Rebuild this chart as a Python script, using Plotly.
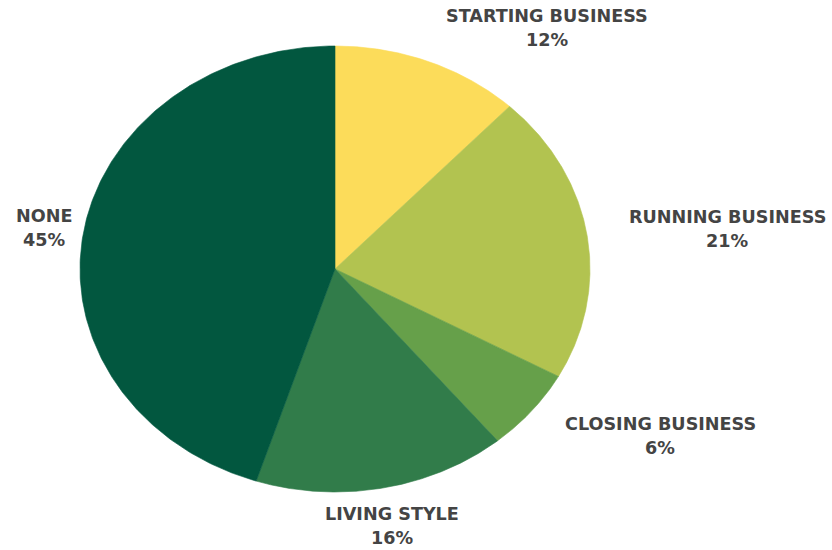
import numpy as np
import plotly.graph_objects as go

# Business-stage share of respondents (percent), clockwise from 12 o'clock
categories = ["STARTING BUSINESS", "RUNNING BUSINESS", "CLOSING BUSINESS", "LIVING STYLE", "NONE"]
shares = [12, 21, 6, 16, 45]
colors = ["#fcdc5a", "#b2c350", "#66a04a", "#317c4a", "#02573f"]

# Label anchor positions in plot units (centre of the pie at 0,0); first line of each label
label_x = [212, 392, 325, 57, -291]
label_y = [253, 52, -155, -245, 53]
LINE_GAP = 24

RX, RY = 255, 223  # horizontal / vertical radii of the pie

fig = go.Figure()

total = sum(shares)
start = 0.0
for name, val, col in zip(categories, shares, colors):
    end = start + val / total * 360
    t = np.radians(np.linspace(start, end, 240))
    xs = np.concatenate([[0], RX * np.sin(t), [0]])
    ys = np.concatenate([[0], RY * np.cos(t), [0]])
    fig.add_trace(go.Scatter(
        x=xs, y=ys, mode="lines", fill="toself",
        fillcolor=col, line=dict(color=col, width=0.6),
        name=name, hoveron="fills", text=f"{name}: {val}%",
        hoverinfo="text", showlegend=False,
    ))
    start = end

label_font = dict(family="DejaVu Sans", size=17.6, color="#444444", weight="bold")
for name, val, lx, ly in zip(categories, shares, label_x, label_y):
    fig.add_annotation(x=lx, y=ly, text=name, showarrow=False,
                       xanchor="center", yanchor="middle", font=label_font)
    fig.add_annotation(x=lx, y=ly - LINE_GAP, text=f"{val}%", showarrow=False,
                       xanchor="center", yanchor="middle", font=label_font)

fig.update_layout(
    width=832, height=550,
    margin=dict(l=0, r=0, t=0, b=0),
    paper_bgcolor="white", plot_bgcolor="white",
    xaxis=dict(range=[-335, 497], visible=False, fixedrange=True),
    yaxis=dict(range=[-281, 269], visible=False, fixedrange=True),
)

fig.write_html("out.html")
